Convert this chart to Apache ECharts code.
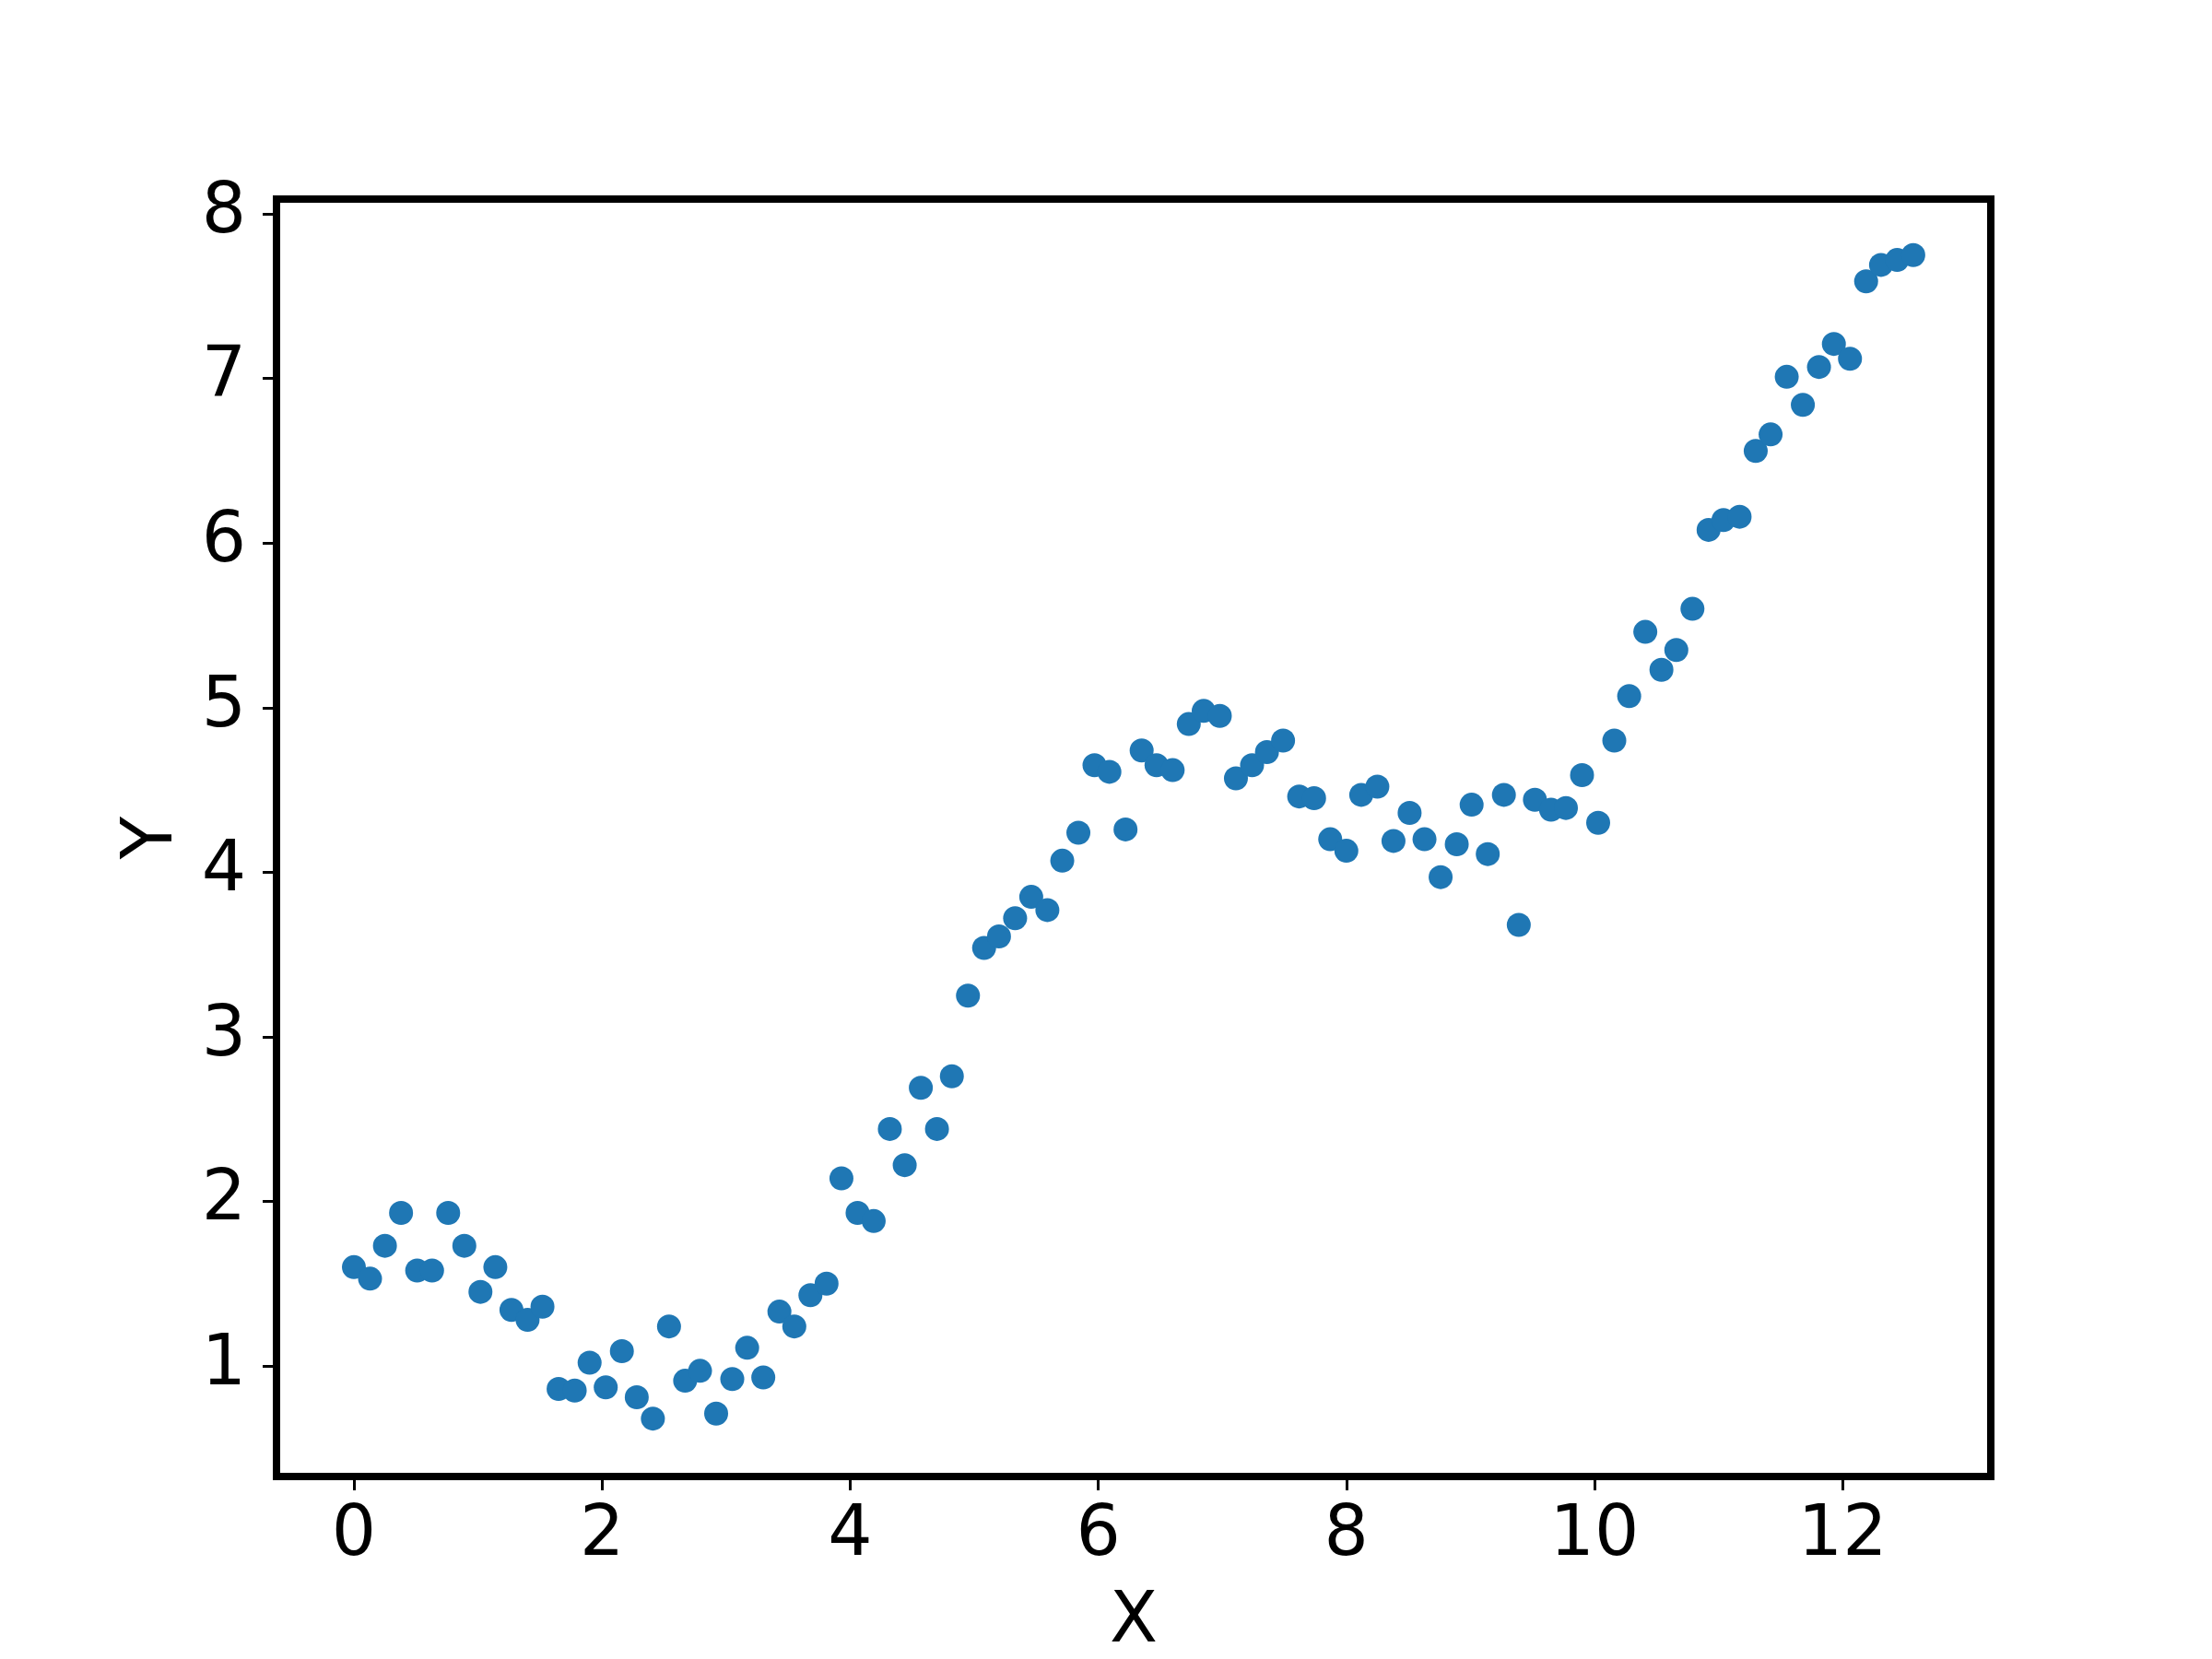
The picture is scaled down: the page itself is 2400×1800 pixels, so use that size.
<!DOCTYPE html>
<html>
<head>
<meta charset="utf-8">
<script src="https://cdn.jsdelivr.net/npm/echarts@6/dist/echarts.min.js"></script>
<style>
  html, body { margin: 0; padding: 0; background: #fff; }
  #chart { width: 2400px; height: 1800px; }
</style>
</head>
<body>
<div id="chart"></div>
<script>
var xValues = [
    0.00, 0.13, 0.25, 0.38, 0.51, 0.63, 0.76, 0.89, 1.02, 1.14,
    1.27, 1.40, 1.52, 1.65, 1.78, 1.90, 2.03, 2.16, 2.28, 2.41,
    2.54, 2.67, 2.79, 2.92, 3.05, 3.17, 3.30, 3.43, 3.55, 3.68,
    3.81, 3.93, 4.06, 4.19, 4.32, 4.44, 4.57, 4.70, 4.82, 4.95,
    5.08, 5.20, 5.33, 5.46, 5.59, 5.71, 5.84, 5.97, 6.09, 6.22,
    6.35, 6.47, 6.60, 6.73, 6.85, 6.98, 7.11, 7.24, 7.36, 7.49,
    7.62, 7.74, 7.87, 8.00, 8.12, 8.25, 8.38, 8.51, 8.63, 8.76,
    8.89, 9.01, 9.14, 9.27, 9.39, 9.52, 9.65, 9.77, 9.90, 10.03,
    10.16, 10.28, 10.41, 10.54, 10.66, 10.79, 10.92, 11.04, 11.17, 11.30,
    11.42, 11.55, 11.68, 11.81, 11.93, 12.06, 12.19, 12.31, 12.44, 12.57
];
var yValues = [
    1.60, 1.53, 1.73, 1.93, 1.58, 1.58, 1.93, 1.73, 1.45, 1.60,
    1.34, 1.28, 1.36, 0.86, 0.85, 1.02, 0.87, 1.09, 0.81, 0.68,
    1.24, 0.91, 0.97, 0.71, 0.92, 1.11, 0.93, 1.33, 1.24, 1.43,
    1.50, 2.14, 1.93, 1.88, 2.44, 2.22, 2.69, 2.44, 2.76, 3.25,
    3.54, 3.61, 3.72, 3.85, 3.77, 4.07, 4.24, 4.65, 4.61, 4.26,
    4.74, 4.65, 4.62, 4.90, 4.98, 4.95, 4.57, 4.65, 4.73, 4.80,
    4.46, 4.45, 4.20, 4.13, 4.47, 4.52, 4.19, 4.36, 4.20, 3.97,
    4.17, 4.41, 4.11, 4.47, 3.68, 4.44, 4.38, 4.39, 4.59, 4.30,
    4.80, 5.07, 5.46, 5.23, 5.35, 5.60, 6.08, 6.14, 6.16, 6.56,
    6.66, 7.01, 6.84, 7.07, 7.21, 7.12, 7.59, 7.69, 7.72, 7.75
];
var xTicks = [0, 2, 4, 6, 8, 10, 12];
var yTicks = [1, 2, 3, 4, 5, 6, 7, 8];

var points = xValues.map(function (x, i) {
    return [x, yValues[i]];
});

var font = 'DejaVu Sans';
var chart = echarts.init(document.getElementById('chart'), null, { renderer: 'canvas' });

// spines: grid border for all four sides, axis lines repeat left/bottom
var spine = { show: true, onZero: false, lineStyle: { color: '#000', width: 8 } };

chart.setOption({
    animation: false,
    backgroundColor: '#ffffff',
    grid: {
        left: 300,
        right: 240,
        top: 216,
        bottom: 198,
        show: true,
        borderColor: '#000',
        borderWidth: 8,
        containLabel: false,
        outerBoundsMode: 'none'
    },
    xAxis: {
        type: 'value',
        min: -0.624,
        max: 13.195,
        name: 'X',
        nameLocation: 'middle',
        nameGap: 121,
        nameTextStyle: { fontFamily: font, fontSize: 76, color: '#000' },
        axisLine: spine,
        axisTick: {
            show: true, inside: false, length: 15, customValues: xTicks,
            lineStyle: { color: '#000', width: 3 }
        },
        axisLabel: {
            customValues: xTicks, margin: 27,
            fontFamily: font, fontSize: 76, color: '#000'
        },
        splitLine: { show: false }
    },
    yAxis: {
        type: 'value',
        min: 0.328,
        max: 8.09,
        name: 'Y',
        nameLocation: 'middle',
        nameGap: 96,
        nameTextStyle: { fontFamily: font, fontSize: 76, color: '#000' },
        axisLine: spine,
        axisTick: {
            show: true, inside: false, length: 15, customValues: yTicks,
            lineStyle: { color: '#000', width: 3 }
        },
        axisLabel: {
            customValues: yTicks, margin: 33,
            fontFamily: font, fontSize: 76, color: '#000'
        },
        splitLine: { show: false }
    },
    series: [{
        type: 'scatter',
        data: points,
        symbol: 'circle',
        symbolSize: 26,
        itemStyle: { color: '#1f77b4', opacity: 1 },
        z: 3
    }]
});
</script>
</body>
</html>
